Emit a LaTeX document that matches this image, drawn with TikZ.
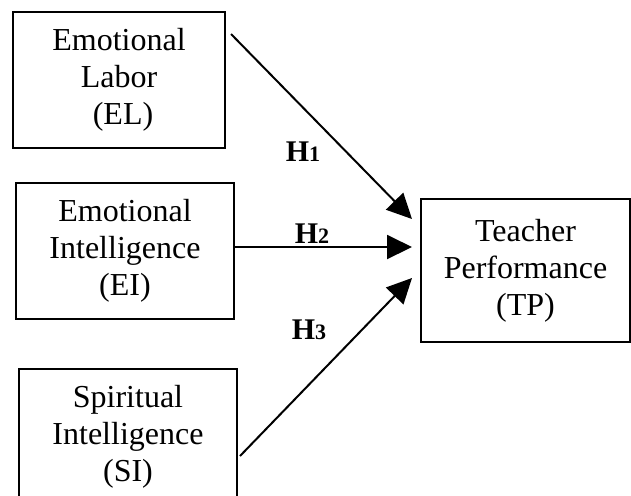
\documentclass[tikz,border=0pt]{standalone}
\usepackage{fontspec}
\setmainfont{Liberation Serif}
\usetikzlibrary{arrows.meta}
\begin{document}
\begin{tikzpicture}[x=0.5pt,y=-0.5pt,
  box/.style={draw, line width=0.9pt, align=center, inner sep=0pt,
    font=\fontsize{16}{18.5}\selectfont},
  conn/.style={line width=1pt, -{Triangle[length=12.5pt,width=12pt]}},
  hlab/.style={font=\fontsize{15}{18}\selectfont\bfseries}]
\useasboundingbox (0,0) rectangle (631,495);
\clip (0,0) rectangle (631,495);
\node[box, minimum width=106pt, minimum height=68pt] (el) at (119,80)
  {Emotional\\Labor\\\ (EL)};
\node[box, minimum width=109pt, minimum height=68pt] (ei) at (125,251)
  {Emotional\\Intelligence\\(EI)};
\node[box, minimum width=109pt, minimum height=68pt] (si) at (128,437)
  {Spiritual\\Intelligence\\(SI)};
\node[box, minimum width=104.5pt, minimum height=71.5pt] (tp) at (525.5,270.5)
  {Teacher\\Performance\\(TP)};
\coordinate (s1) at (231,34);
\coordinate (t1) at (412,219);
\coordinate (t2) at (412,247);
\coordinate (s3) at (240,456);
\coordinate (t3) at (412,278);
\draw[conn] (s1) -- (t1);
\draw[conn] (ei.east |- t2) -- (t2);
\draw[conn] (s3) -- (t3);
\node[hlab] (h1) at (303,152) {H{\fontsize{11}{13}\selectfont 1}};
\node[hlab] (h2) at (312,234) {H{\fontsize{11}{13}\selectfont 2}};
\node[hlab] (h3) at (309,330) {H{\fontsize{11}{13}\selectfont 3}};
\end{tikzpicture}
\end{document}
